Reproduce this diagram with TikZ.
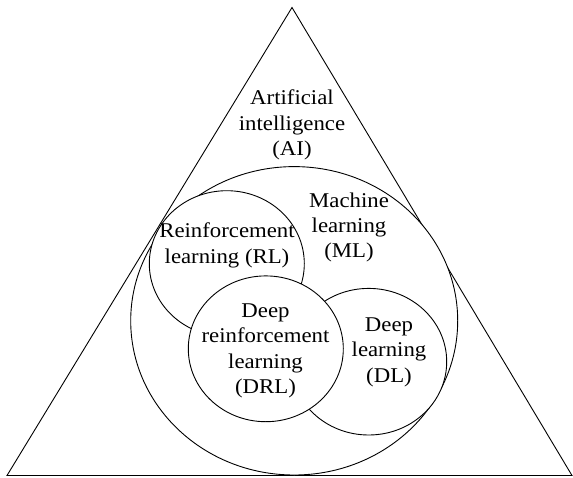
\documentclass[tikz,border=0pt]{standalone}
\usepackage{fontspec}
\setmainfont{Liberation Serif}[FakeStretch=1.085]
\usetikzlibrary{shapes.geometric}
\begin{document}
\begin{tikzpicture}[x=1pt,y=-1pt,
  outline/.style={draw=black, line width=0.9pt, line join=miter},
  zone/.style={ellipse, draw=black, fill=white, line width=0.9pt, inner sep=0pt},
  caption/.style={align=center, font=\fontsize{21}{25.3}\selectfont, inner sep=0pt}]
\useasboundingbox (0,0) rectangle (573,477);
% outer triangle: artificial intelligence
\coordinate (apex) at (292,7.5);
\coordinate (lc) at (7,475.5);
\coordinate (rc) at (572,475.5);
\draw[outline] (lc) -- (apex) -- (rc) -- cycle;
% nested fields
\node[zone, minimum width=327pt, minimum height=308.4pt] (ml) at (294.2,320.8) {};
\node[zone, minimum width=155pt, minimum height=146pt] (rl) at (226.8,263.7) {};
\node[zone, minimum width=156pt, minimum height=146.6pt] (dl) at (368.7,361.7) {};
\node[zone, minimum width=155pt, minimum height=145.8pt] (drl) at (265.8,348.8) {};
% labels
\node[caption] (ait) at (292,125) {Artificial\\intelligence\\(AI)};
\node[caption] (mlt) at (349,227.6) {Machine\\learning\\(ML)};
\node[caption] (rlt) at (227,245.5) {Reinforcement\\learning (RL)};
\node[caption] (drlt) at (265.5,351) {Deep\\reinforcement\\learning\\(DRL)};
\node[caption] (dlt) at (389,352.3) {Deep\\learning\\(DL)};
\end{tikzpicture}
\end{document}
